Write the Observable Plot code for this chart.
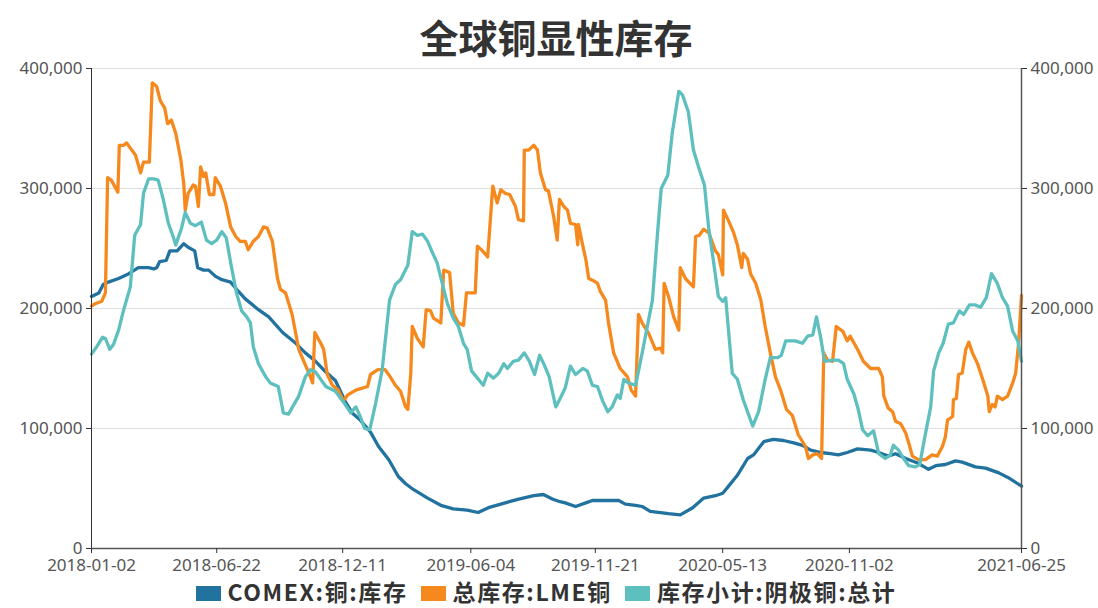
<!DOCTYPE html>
<html><head><meta charset="utf-8">
<script src="https://cdn.jsdelivr.net/npm/d3@7"></script>
<script src="https://cdn.jsdelivr.net/npm/@observablehq/plot@0.6"></script>
<style>
body{margin:0;background:#fff;}
#wrap{position:relative;width:1098px;height:608px;overflow:hidden;font-family:"Noto Sans CJK SC","Noto Sans",sans-serif;}
#title{position:absolute;top:8px;left:0;width:1112px;text-align:center;font-size:39px;font-weight:bold;color:#333;line-height:56px;}
#chart{position:absolute;left:0;top:0;}
#legend{position:absolute;top:575px;left:0;width:1098px;height:33px;display:flex;justify-content:center;align-items:center;gap:13px;font-size:23px;letter-spacing:1.6px;font-weight:bold;color:#333;line-height:33px;padding-right:6px;box-sizing:border-box;}
.item{display:flex;align-items:center;gap:7px;}
.sw{width:25px;height:15px;display:inline-block;margin-top:4px;}
</style>
</head><body>
<div id="wrap">
  <div id="chart"></div>
  <div id="title"></div>
  <div id="legend"></div>
</div>
<script>
const titleText = "全球铜显性库存";
const seriesNames = ["COMEX:铜:库存", "总库存:LME铜", "库存小计:阴极铜:总计"];
const seriesColors = ["#21729f", "#f6891e", "#5dbfbe"];
const xTickLabels = ["2018-01-02","2018-06-22","2018-12-11","2019-06-04","2019-11-21","2020-05-13","2020-11-02","2021-06-25"];
const yTicks = [0, 100000, 200000, 300000, 400000];

// values in thousand tonnes
const comexDates = [
"2018-01-02","2018-01-12","2018-01-18","2018-01-25","2018-02-08","2018-02-22","2018-03-07","2018-03-21","2018-03-28","2018-04-01",
"2018-04-05","2018-04-14","2018-04-19","2018-04-29","2018-05-08","2018-05-14","2018-05-23","2018-05-27","2018-06-04","2018-06-11",
"2018-06-20","2018-06-29","2018-07-11","2018-07-22","2018-07-31","2018-08-18","2018-09-01","2018-09-20","2018-10-08","2018-10-21",
"2018-11-04","2018-11-18","2018-12-01","2018-12-08","2018-12-15","2018-12-24","2019-01-04","2019-01-18","2019-01-29","2019-02-12",
"2019-02-25","2019-03-07","2019-03-18","2019-04-06","2019-04-24","2019-05-11","2019-05-30","2019-06-14","2019-06-28","2019-07-15",
"2019-08-07","2019-08-29","2019-09-11","2019-09-24","2019-10-04","2019-10-11","2019-10-25","2019-11-08","2019-11-17","2019-12-23",
"2020-01-01","2020-01-15","2020-01-24","2020-02-04","2020-02-29","2020-03-16","2020-04-02","2020-04-17","2020-05-03","2020-05-13",
"2020-05-21","2020-06-02","2020-06-16","2020-06-24","2020-07-08","2020-07-21","2020-08-04","2020-08-18","2020-08-30","2020-09-10",
"2020-09-24","2020-10-07","2020-10-18","2020-10-30","2020-11-13","2020-12-01","2020-12-12","2020-12-25","2021-01-04","2021-01-18",
"2021-02-04","2021-02-18","2021-02-28","2021-03-13","2021-03-27","2021-04-05","2021-04-23","2021-05-07","2021-05-25","2021-06-07",
"2021-06-25"];
const comexValues = [
210,213,220,222,225,229,234,234,233,234,
239,240,248,248,254,251,248,234,232,232,
227,224,222,214,208,199,193,180,171,163,
156,147,140,131,122,113,107,97,85,74,
60,54,49,42,36,33,32,30,34,37,
41,44,45,41,39,38,35,38,40,40,
37,36,35,31,29,28,34,42,44,46,
52,61,75,78,89,91,90,88,86,82,
80,79,78,80,83,82,80,77,79,75,
71,66,69,70,73,72,68,67,63,59,
52];

const lmeDates = [
"2018-01-02","2018-01-07","2018-01-16","2018-01-21","2018-01-24","2018-01-29","2018-02-07","2018-02-09","2018-02-15","2018-02-19",
"2018-02-26","2018-03-03","2018-03-10","2018-03-14","2018-03-22","2018-03-26","2018-04-01","2018-04-06","2018-04-12","2018-04-16",
"2018-04-21","2018-04-27","2018-05-04","2018-05-08","2018-05-10","2018-05-14","2018-05-21","2018-05-24","2018-05-28","2018-05-31",
"2018-06-04","2018-06-07","2018-06-12","2018-06-18","2018-06-20","2018-06-27","2018-07-04","2018-07-11","2018-07-18","2018-07-24",
"2018-07-31","2018-08-04","2018-08-11","2018-08-18","2018-08-25","2018-08-30","2018-09-06","2018-09-13","2018-09-17","2018-09-24",
"2018-10-03","2018-10-12","2018-10-21","2018-10-28","2018-10-31","2018-11-03","2018-11-11","2018-11-15","2018-11-20","2018-11-27",
"2018-12-05","2018-12-12","2018-12-18","2018-12-29","2019-01-14","2019-01-18","2019-01-28","2019-02-07","2019-02-14","2019-02-21",
"2019-02-28","2019-03-07","2019-03-10","2019-03-14","2019-03-16","2019-03-23","2019-03-31","2019-04-04","2019-04-10","2019-04-14",
"2019-04-24","2019-04-28","2019-05-06","2019-05-11","2019-05-18","2019-05-25","2019-05-29","2019-06-10","2019-06-13","2019-06-20",
"2019-06-27","2019-07-04","2019-07-10","2019-07-15","2019-07-21","2019-07-27","2019-08-04","2019-08-08","2019-08-15","2019-08-16",
"2019-08-22","2019-08-29","2019-09-03","2019-09-07","2019-09-14","2019-09-18","2019-09-25","2019-09-30","2019-10-03","2019-10-09",
"2019-10-14","2019-10-18","2019-10-25","2019-10-28","2019-10-29","2019-11-04","2019-11-08","2019-11-12","2019-11-19","2019-11-24",
"2019-11-28","2019-12-05","2019-12-09","2019-12-16","2019-12-25","2020-01-04","2020-01-09","2020-01-15","2020-01-19","2020-01-24",
"2020-02-02","2020-02-11","2020-02-18","2020-02-21","2020-02-23","2020-02-29","2020-03-07","2020-03-14","2020-03-16","2020-03-23",
"2020-04-03","2020-04-06","2020-04-11","2020-04-17","2020-04-24","2020-05-03","2020-05-07","2020-05-13","2020-05-14","2020-05-21",
"2020-05-28","2020-06-02","2020-06-08","2020-06-10","2020-06-16","2020-06-20","2020-06-27","2020-07-04","2020-07-10","2020-07-17",
"2020-07-24","2020-07-31","2020-08-08","2020-08-16","2020-08-24","2020-09-03","2020-09-07","2020-09-13","2020-09-19","2020-09-25",
"2020-09-28","2020-10-03","2020-10-10","2020-10-15","2020-10-24","2020-10-30","2020-11-03","2020-11-13","2020-11-21","2020-12-01",
"2020-12-12","2020-12-17","2020-12-19","2020-12-25","2020-12-31","2021-01-04","2021-01-11","2021-01-18","2021-01-22","2021-01-27",
"2021-02-04","2021-02-14","2021-02-23","2021-03-02","2021-03-09","2021-03-13","2021-03-16","2021-03-23","2021-03-24","2021-03-28",
"2021-03-31","2021-04-05","2021-04-10","2021-04-14","2021-04-19","2021-04-26","2021-05-03","2021-05-10","2021-05-12","2021-05-16",
"2021-05-20","2021-05-23","2021-05-30","2021-06-06","2021-06-13","2021-06-17","2021-06-21","2021-06-25"];
const lmeValues = [
202,204,206,213,309,307,297,336,336,338,
332,328,313,322,322,388,385,373,367,354,
357,346,324,304,282,296,303,302,285,318,
310,313,295,295,309,302,288,268,260,256,
256,249,256,260,268,267,256,225,216,213,
195,166,153,143,138,180,171,166,145,136,
132,123,128,132,135,145,149,149,143,136,
131,118,116,146,185,175,168,199,198,192,
188,232,230,196,188,186,213,213,252,248,
243,302,288,299,296,295,285,274,273,332,
332,336,332,313,299,298,277,257,291,285,
282,271,270,253,270,252,241,225,223,221,
214,207,188,163,150,143,132,127,195,188,
179,166,167,163,221,210,193,182,234,225,
218,260,261,266,263,248,245,228,282,273,
263,253,234,246,241,229,221,207,185,163,
143,132,116,111,95,85,75,78,79,75,
163,157,156,185,181,173,177,166,156,150,
150,143,127,117,114,106,104,96,88,77,
74,74,78,77,85,93,107,110,124,125,
145,146,166,172,163,154,141,127,114,120,
118,127,124,127,138,146,171,211];

const shfeDates = [
"2018-01-02","2018-01-09","2018-01-17","2018-01-21","2018-01-27","2018-02-01","2018-02-08","2018-02-15","2018-02-24","2018-03-02",
"2018-03-10","2018-03-14","2018-03-21","2018-03-28","2018-04-03","2018-04-10","2018-04-17","2018-04-24","2018-04-27","2018-05-05",
"2018-05-10","2018-05-17","2018-05-24","2018-06-01","2018-06-08","2018-06-15","2018-06-22","2018-06-29","2018-07-05","2018-07-12",
"2018-07-19","2018-07-26","2018-08-02","2018-08-07","2018-08-11","2018-08-18","2018-08-28","2018-09-03","2018-09-14","2018-09-21",
"2018-09-28","2018-10-12","2018-10-21","2018-10-28","2018-11-04","2018-11-18","2018-12-01","2018-12-11","2018-12-22","2018-12-29",
"2019-01-04","2019-01-10","2019-01-17","2019-01-25","2019-02-03","2019-02-13","2019-02-21","2019-02-28","2019-03-10","2019-03-16",
"2019-03-23","2019-03-30","2019-04-06","2019-04-13","2019-04-19","2019-04-26","2019-05-03","2019-05-11","2019-05-18","2019-05-25",
"2019-05-30","2019-06-05","2019-06-13","2019-06-21","2019-06-27","2019-07-05","2019-07-12","2019-07-19","2019-07-24","2019-08-01",
"2019-08-08","2019-08-16","2019-08-23","2019-08-30","2019-09-06","2019-09-13","2019-09-19","2019-09-28","2019-10-04","2019-10-11",
"2019-10-18","2019-10-25","2019-11-04","2019-11-10","2019-11-17","2019-11-24","2019-12-01","2019-12-08","2019-12-14","2019-12-21",
"2019-12-25","2019-12-30","2020-01-05","2020-01-15","2020-01-24","2020-02-07","2020-02-14","2020-02-19","2020-02-28","2020-03-05",
"2020-03-14","2020-03-19","2020-03-27","2020-04-03","2020-04-10","2020-04-18","2020-04-24","2020-04-30","2020-05-07","2020-05-13",
"2020-05-17","2020-05-26","2020-06-02","2020-06-10","2020-06-23","2020-07-01","2020-07-10","2020-07-17","2020-07-27","2020-08-01",
"2020-08-07","2020-08-20","2020-08-30","2020-09-06","2020-09-13","2020-09-18","2020-09-24","2020-09-29","2020-10-10","2020-10-18",
"2020-10-25","2020-10-30","2020-11-08","2020-11-14","2020-11-20","2020-11-27","2020-12-01","2020-12-05","2020-12-12","2020-12-21",
"2020-12-28","2021-01-01","2021-01-08","2021-01-15","2021-01-22","2021-01-31","2021-02-06","2021-02-13","2021-02-21","2021-02-25",
"2021-03-04","2021-03-10","2021-03-17","2021-03-24","2021-04-01","2021-04-07","2021-04-15","2021-04-23","2021-04-30","2021-05-08",
"2021-05-15","2021-05-23","2021-05-30","2021-06-06","2021-06-13","2021-06-20","2021-06-25"];
const shfeValues = [
162,168,176,175,166,170,182,199,218,261,
270,296,308,308,307,291,271,259,253,267,
280,271,269,272,257,254,257,264,259,235,
213,198,193,188,168,154,143,138,135,113,
112,127,143,149,147,135,131,123,113,118,
110,100,99,121,149,207,220,224,236,264,
261,262,256,246,238,221,204,192,185,171,
166,148,142,136,146,142,146,154,150,156,
157,163,156,145,161,152,143,118,125,134,
152,145,150,148,136,135,123,114,118,128,
125,141,138,136,163,207,263,300,311,346,
381,378,364,332,318,303,266,241,210,206,
209,146,141,124,102,114,141,159,159,161,
173,173,171,177,178,193,175,156,157,157,
154,141,129,116,99,94,96,98,79,75,
78,86,82,75,69,68,70,93,118,148,
163,171,187,188,198,195,203,203,201,209,
229,221,209,202,181,173,156];

const parse = d3.utcParse("%Y-%m-%d");
function build(dates, values, name) {
  const n = Math.min(dates.length, values.length);
  return d3.range(n).map(i => ({date: parse(dates[i]), value: values[i] * 1000, series: name}));
}
const comex = build(comexDates, comexValues, seriesNames[0]);
const lme = build(lmeDates, lmeValues, seriesNames[1]);
const shfe = build(shfeDates, shfeValues, seriesNames[2]);

const xTicks = xTickLabels.map(parse);
const x0 = xTicks[0], x1 = xTicks[xTicks.length - 1];
const fmt = d3.format(",");
const axisColor = "#333";
const labelFont = "Noto Sans";

const chart = Plot.plot({
  width: 1098,
  height: 608,
  marginLeft: 91,
  marginRight: 77,
  marginTop: 68,
  marginBottom: 60,
  style: {fontFamily: labelFont, fontSize: "17px", color: "#555", background: "transparent"},
  x: {type: "utc", domain: [x0, x1]},
  y: {domain: [0, 400000]},
  marks: [
    Plot.ruleY(yTicks.slice(1), {stroke: "#dedede", strokeWidth: 1}),
    Plot.lineY(comex, {x: "date", y: "value", stroke: seriesColors[0], strokeWidth: 3.3, strokeLinejoin: "round"}),
    Plot.lineY(lme, {x: "date", y: "value", stroke: seriesColors[1], strokeWidth: 3.3, strokeLinejoin: "round"}),
    Plot.lineY(shfe, {x: "date", y: "value", stroke: seriesColors[2], strokeWidth: 3.3, strokeLinejoin: "round"}),
    Plot.ruleX([x0], {stroke: axisColor, strokeWidth: 1}),
    Plot.ruleX([x1], {stroke: "#555", strokeWidth: 1.5}),
    Plot.ruleY([0], {stroke: "#555", strokeWidth: 1.5}),
    Plot.axisY({anchor: "left", ticks: yTicks, tickFormat: fmt, tickSize: 5, tickPadding: 4, label: null, stroke: axisColor, fill: "#555"}),
    Plot.axisY({anchor: "right", ticks: yTicks, tickFormat: fmt, tickSize: 5, tickPadding: 4, label: null, stroke: axisColor, fill: "#555"}),
    Plot.axisX({ticks: xTicks, tickFormat: d3.utcFormat("%Y-%m-%d"), tickSize: 5, tickPadding: 5, label: null, stroke: axisColor, fill: "#555"})
  ]
});
document.getElementById("chart").appendChild(chart);
document.getElementById("title").textContent = titleText;

const legend = document.getElementById("legend");
seriesNames.forEach((name, i) => {
  const item = document.createElement("div");
  item.className = "item";
  const sw = document.createElement("span");
  sw.className = "sw";
  sw.style.background = seriesColors[i];
  const t = document.createElement("span");
  t.textContent = name;
  item.appendChild(sw);
  item.appendChild(t);
  legend.appendChild(item);
});
</script>
</body></html>
